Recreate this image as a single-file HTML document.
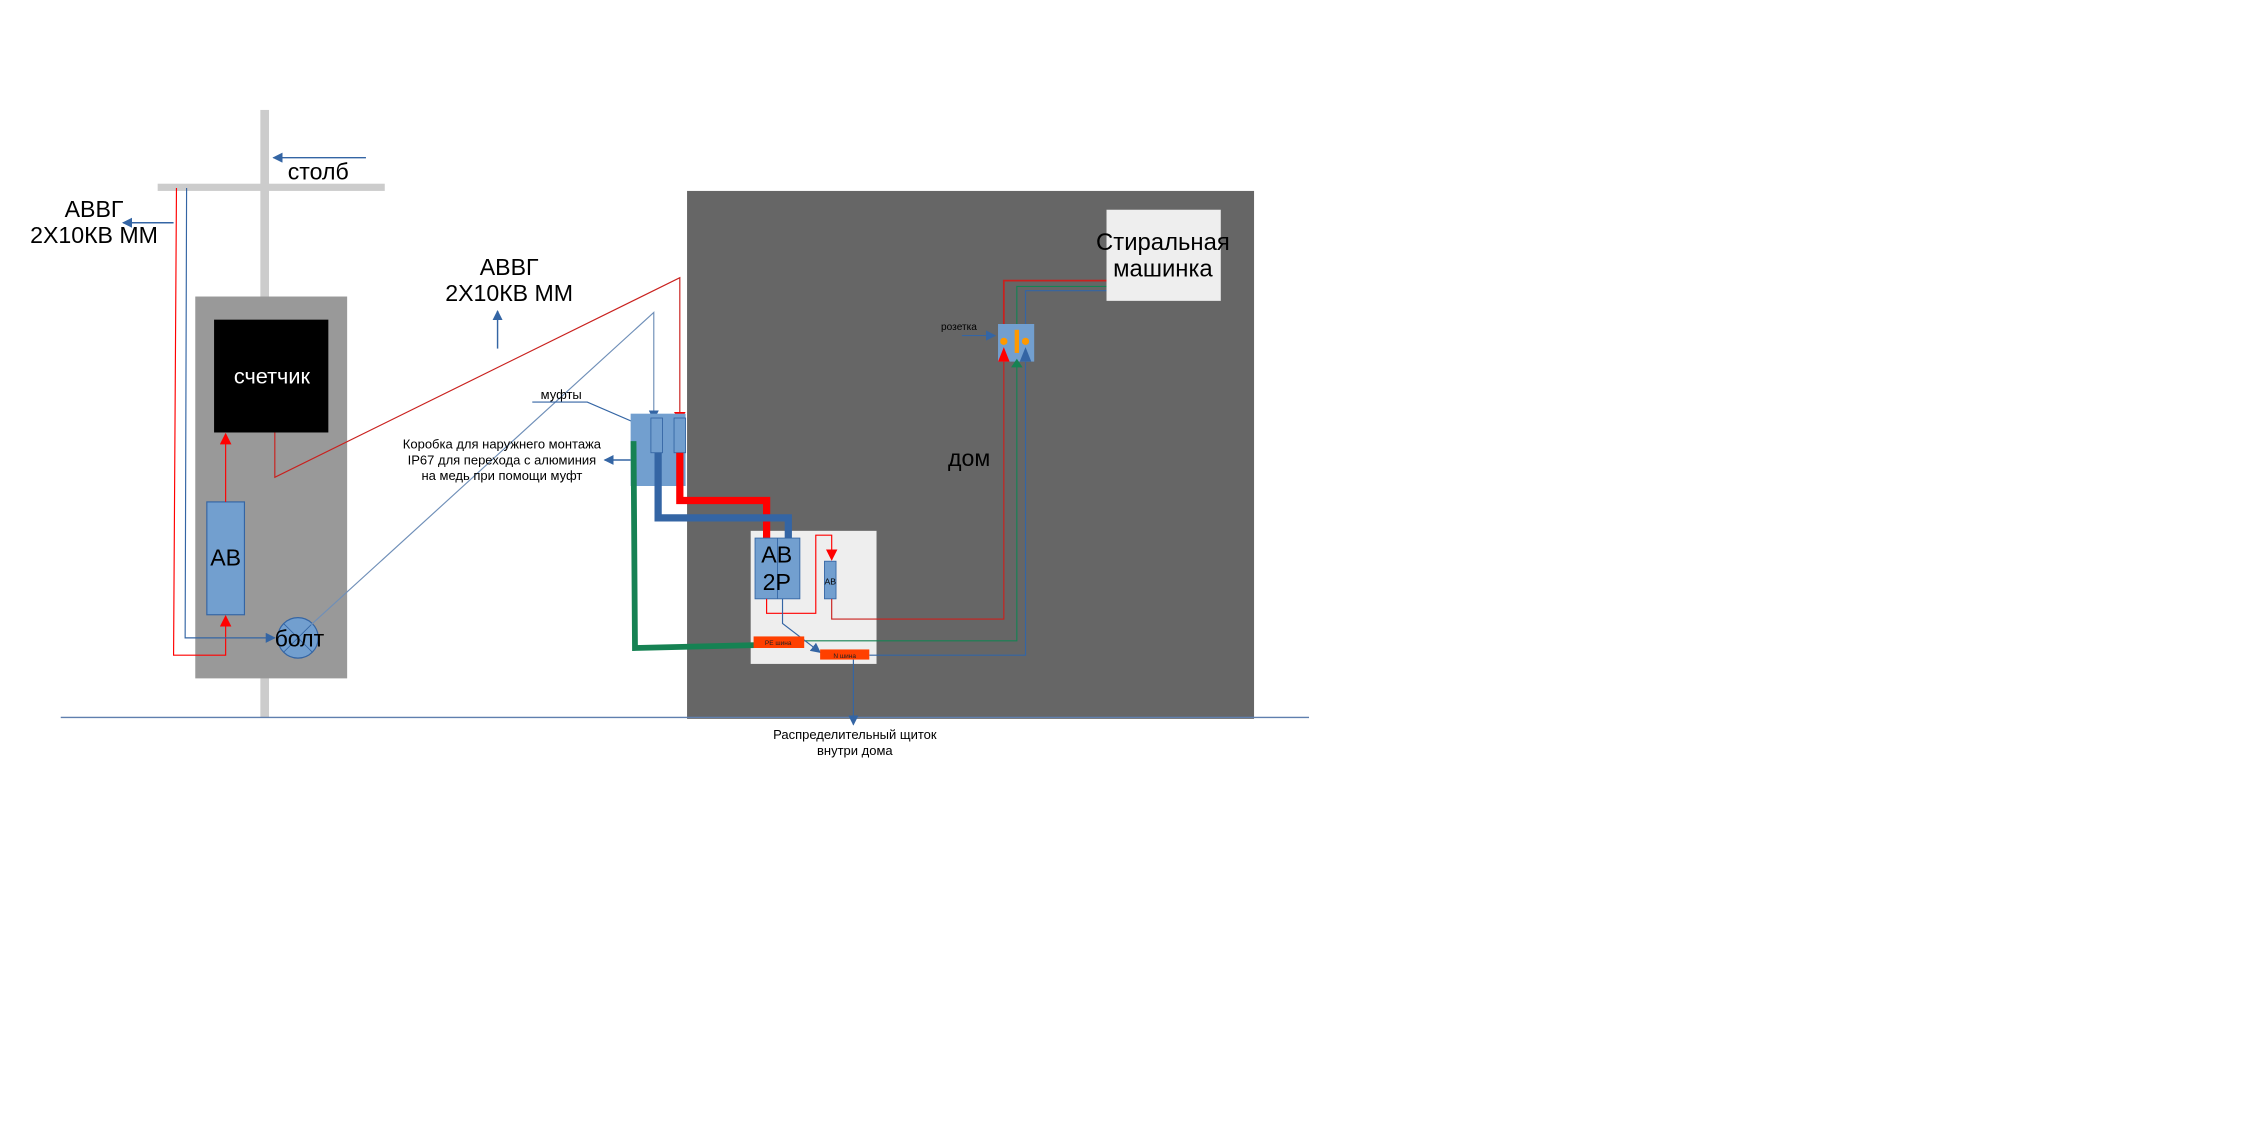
<!DOCTYPE html>
<html><head><meta charset="utf-8"><style>
html,body{margin:0;padding:0;background:#fff;}
svg{display:block;}
text{font-family:"Liberation Sans",sans-serif;}
</style></head><body>
<svg width="2268" height="1134" viewBox="0 0 1568 784" xmlns="http://www.w3.org/2000/svg">
<defs>
<marker id="ab" viewBox="0 0 10 10" refX="9" refY="5" markerWidth="7" markerHeight="7" orient="auto" markerUnits="userSpaceOnUse"><path d="M0,0L10,5L0,10z" fill="#3465a4"/></marker>
<marker id="ar" viewBox="0 0 10 10" refX="9" refY="5" markerWidth="8" markerHeight="8" orient="auto" markerUnits="userSpaceOnUse"><path d="M0,0L10,5L0,10z" fill="#ff0000"/></marker>
</defs>
<rect x="180" y="76" width="6" height="420" fill="#cccccc"/>
<rect x="109" y="127" width="157" height="5" fill="#cccccc"/>
<line x1="253" y1="109" x2="189" y2="109" stroke="#3465a4" stroke-width="1" marker-end="url(#ab)"/>
<text x="220" y="124" font-size="16" text-anchor="middle">столб</text>
<text x="65" y="150" font-size="16" text-anchor="middle">АВВГ</text>
<text x="65" y="168" font-size="16" text-anchor="middle">2X10КВ ММ</text>
<line x1="120" y1="154" x2="85" y2="154" stroke="#3465a4" stroke-width="1" marker-end="url(#ab)"/>
<rect x="475" y="132" width="392" height="365" fill="#666666"/>
<line x1="42" y1="496" x2="905" y2="496" stroke="#5f7fae" stroke-width="1"/>
<rect x="135" y="205" width="105" height="264" fill="#999999"/>
<rect x="148" y="221" width="79" height="78" fill="#000"/>
<text x="188" y="265" font-size="15" fill="#fff" text-anchor="middle">счетчик</text>
<rect x="143" y="347" width="26" height="78" fill="#729fcf" stroke="#3465a4" stroke-width="0.8"/>
<text x="156" y="391" font-size="16" text-anchor="middle">АВ</text>
<circle cx="206" cy="441" r="14" fill="#729fcf" stroke="#3465a4" stroke-width="0.8"/>
<line x1="196" y1="431" x2="216" y2="451" stroke="#3465a4" stroke-width="0.6"/>
<line x1="216" y1="431" x2="196" y2="451" stroke="#3465a4" stroke-width="0.6"/>
<text x="207" y="447" font-size="16" text-anchor="middle">болт</text>
<polyline points="122,130 120,453 156,453 156,426" fill="none" stroke="#ff0000" stroke-width="0.8" marker-end="url(#ar)"/>
<line x1="156" y1="347" x2="156" y2="300" stroke="#ff0000" stroke-width="0.8" marker-end="url(#ar)"/>
<polyline points="129,130 128,441 190,441" fill="none" stroke="#3465a4" stroke-width="0.8" marker-end="url(#ab)"/>
<polyline points="190,299 190,330 470,192 470,292" fill="none" stroke="#c9211e" stroke-width="0.8" marker-end="url(#ar)"/>
<polyline points="215,432 452,216 452,290" fill="none" stroke="#6f8fb8" stroke-width="0.8" marker-end="url(#ab)"/>
<text x="352" y="190" font-size="16" text-anchor="middle">АВВГ</text>
<text x="352" y="208" font-size="16" text-anchor="middle">2X10КВ ММ</text>
<line x1="344" y1="241" x2="344" y2="215" stroke="#3465a4" stroke-width="1" marker-end="url(#ab)"/>
<text x="388" y="276" font-size="9" text-anchor="middle">муфты</text>
<polyline points="368,278 406,278 450,297" fill="none" stroke="#3465a4" stroke-width="0.8" marker-end="url(#ab)"/>
<text x="347" y="310" font-size="9" text-anchor="middle">Коробка для наружнего монтажа</text>
<text x="347" y="321" font-size="9" text-anchor="middle">IP67 для перехода с алюминия</text>
<text x="347" y="332" font-size="9" text-anchor="middle">на медь при помощи муфт</text>
<line x1="436" y1="318" x2="418" y2="318" stroke="#3465a4" stroke-width="1" marker-end="url(#ab)"/>
<rect x="436" y="286" width="38" height="50" fill="#729fcf"/>
<rect x="450" y="289" width="8" height="24" fill="#729fcf" stroke="#3465a4" stroke-width="0.6"/>
<rect x="466" y="289" width="8" height="24" fill="#729fcf" stroke="#3465a4" stroke-width="0.6"/>
<rect x="519" y="367" width="87" height="92" fill="#eeeeee"/>
<polyline points="470,313 470,346 530,346 530,372" fill="none" stroke="#ff0000" stroke-width="5"/>
<polyline points="455,313 455,358 545,358 545,372" fill="none" stroke="#3465a4" stroke-width="5"/>
<polyline points="438,305 439,448 522,446" fill="none" stroke="#168253" stroke-width="4"/>
<rect x="522" y="372" width="31" height="42" fill="#729fcf" stroke="#3465a4" stroke-width="0.6"/>
<line x1="537.5" y1="372" x2="537.5" y2="414" stroke="#3465a4" stroke-width="0.6"/>
<text x="537" y="389" font-size="16" text-anchor="middle">АВ</text>
<text x="537" y="408" font-size="16" text-anchor="middle">2Р</text>
<rect x="570" y="388" width="8" height="26" fill="#729fcf" stroke="#3465a4" stroke-width="0.6"/>
<text x="574" y="404" font-size="6" text-anchor="middle">АВ</text>
<polyline points="530,414 530,424 564,424 564,370 575,370 575,387" fill="none" stroke="#ff0000" stroke-width="0.8" marker-end="url(#ar)"/>
<polyline points="575,414 575,428 694,428 694,242" fill="none" stroke="#c9211e" stroke-width="0.8" marker-end="url(#ar)"/>
<polyline points="694,236 694,194 765,194" fill="none" stroke="#c9211e" stroke-width="1.2"/>
<polyline points="556,443 703,443 703,198 765,198" fill="none" stroke="#168253" stroke-width="0.8"/>
<polyline points="601,453 709,453 709,201 765,201" fill="none" stroke="#3465a4" stroke-width="0.8"/>
<polyline points="541,414 541,431 567,451" fill="none" stroke="#3465a4" stroke-width="0.8" marker-end="url(#ab)"/>
<rect x="521" y="440" width="35" height="8" fill="#ff4000"/>
<text x="538" y="446" font-size="4.5" text-anchor="middle" fill="#222">PE шина</text>
<rect x="567" y="449" width="34" height="7" fill="#ff4000"/>
<text x="584" y="455" font-size="4.5" text-anchor="middle" fill="#222">N шина</text>
<line x1="590" y1="456" x2="590" y2="501" stroke="#3465a4" stroke-width="0.8" marker-end="url(#ab)"/>
<text x="591" y="511" font-size="9" text-anchor="middle">Распределительный щиток</text>
<text x="591" y="522" font-size="9" text-anchor="middle">внутри дома</text>
<rect x="765" y="145" width="79" height="63" fill="#eeeeee"/>
<text x="804" y="173" font-size="16.5" text-anchor="middle">Стиральная</text>
<text x="804" y="191" font-size="16.5" text-anchor="middle">машинка</text>
<rect x="690" y="224" width="25" height="26" fill="#729fcf"/>
<circle cx="694" cy="236" r="2.5" fill="#ff9900"/>
<rect x="701.5" y="228" width="3" height="16" fill="#ff9900"/>
<circle cx="709" cy="236" r="2.5" fill="#ff9900"/>
<path d="M690,250L694,240L698,250z" fill="#ff0000"/>
<path d="M705,250L709,240L713,250z" fill="#3465a4"/>
<path d="M699,254L703,248L707,254z" fill="#168253"/>
<text x="663" y="228" font-size="7" text-anchor="middle">розетка</text>
<line x1="665" y1="232" x2="688" y2="232" stroke="#3465a4" stroke-width="0.8" marker-end="url(#ab)"/>
<text x="670" y="322" font-size="16" text-anchor="middle">дом</text>
</svg>
</body></html>
